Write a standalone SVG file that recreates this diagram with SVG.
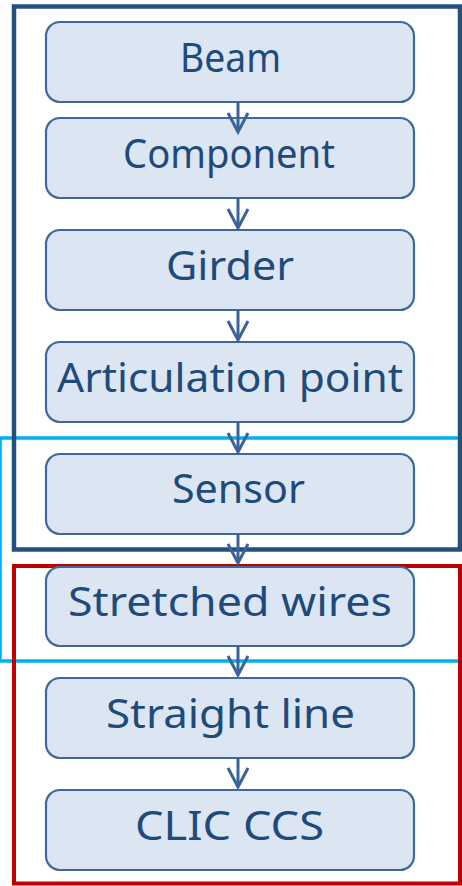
<svg xmlns="http://www.w3.org/2000/svg" width="462" height="886" viewBox="0 0 462 886">
  <defs>
    <style>
      .node rect { fill: #dce6f2; stroke: #41689a; stroke-width: 2.2; }
      .node text { font-family: "Comic Sans MS", "Noto Sans", "DejaVu Sans", sans-serif; font-size: 40px; fill: #1f4a7c; text-anchor: middle; }
      .conn line { stroke: #3a6399; stroke-width: 3; fill: none; }
      .conn path { stroke: #3a6399; stroke-width: 3; fill: none; stroke-linejoin: miter; }
    </style>
  </defs>
  <rect width="462" height="886" fill="#ffffff"/>

  <!-- grouping frames -->
  <g id="frames" fill="none">
    <rect id="frame-cyan" x="0" y="438" width="470" height="223" stroke="#00b0f0" stroke-width="3.5"/>
    <rect id="frame-blue" x="14" y="6.5" width="446" height="543" stroke="#24507f" stroke-width="4.5"/>
    <rect id="frame-red" x="14" y="566" width="446" height="317.5" stroke="#c00000" stroke-width="4"/>
  </g>

  <!-- nodes -->
  <g id="beam" class="node">
    <rect x="46" y="22" width="368" height="80" rx="14"/>
    <text x="230.5" y="72" textLength="101" lengthAdjust="spacingAndGlyphs">Beam</text>
  </g>
  <g id="component" class="node">
    <rect x="46" y="118" width="368" height="80" rx="14"/>
    <text x="229" y="168" textLength="212" lengthAdjust="spacingAndGlyphs">Component</text>
  </g>
  <g id="girder" class="node">
    <rect x="46" y="230" width="368" height="80" rx="14"/>
    <text x="230" y="280" textLength="128" lengthAdjust="spacingAndGlyphs">Girder</text>
  </g>
  <g id="articulation-point" class="node">
    <rect x="46" y="342" width="368" height="80" rx="14"/>
    <text x="230" y="392" textLength="346" lengthAdjust="spacingAndGlyphs">Articulation point</text>
  </g>
  <g id="sensor" class="node">
    <rect x="46" y="454" width="368" height="80" rx="14"/>
    <text x="238.5" y="503" textLength="133" lengthAdjust="spacingAndGlyphs">Sensor</text>
  </g>
  <g id="stretched-wires" class="node">
    <rect x="46" y="567" width="368" height="79" rx="14"/>
    <text x="230" y="616" textLength="324" lengthAdjust="spacingAndGlyphs">Stretched wires</text>
  </g>
  <g id="straight-line" class="node">
    <rect x="46" y="678" width="368" height="80" rx="14"/>
    <text x="230.5" y="728" textLength="249" lengthAdjust="spacingAndGlyphs">Straight line</text>
  </g>
  <g id="clic-ccs" class="node">
    <rect x="46" y="790" width="368" height="80" rx="14"/>
    <text x="229.5" y="840" textLength="189" lengthAdjust="spacingAndGlyphs">CLIC CCS</text>
  </g>

  <!-- connectors: open V arrowheads -->
  <g id="connectors" class="conn">
    <line x1="238" y1="102" x2="238" y2="131"/>
    <path d="M228,113 L238,132 L248,113"/>
    <line x1="238" y1="198" x2="238" y2="227"/>
    <path d="M228,209 L238,228 L248,209"/>
    <line x1="238" y1="310" x2="238" y2="339"/>
    <path d="M228,321 L238,340 L248,321"/>
    <line x1="238" y1="422" x2="238" y2="451"/>
    <path d="M228,433 L238,452 L248,433"/>
    <line x1="238" y1="534" x2="238" y2="562"/>
    <path d="M228,544 L238,563 L248,544"/>
    <line x1="238" y1="646" x2="238" y2="674"/>
    <path d="M228,656 L238,675 L248,656"/>
    <line x1="238" y1="758" x2="238" y2="786"/>
    <path d="M228,768 L238,787 L248,768"/>
  </g>
</svg>
